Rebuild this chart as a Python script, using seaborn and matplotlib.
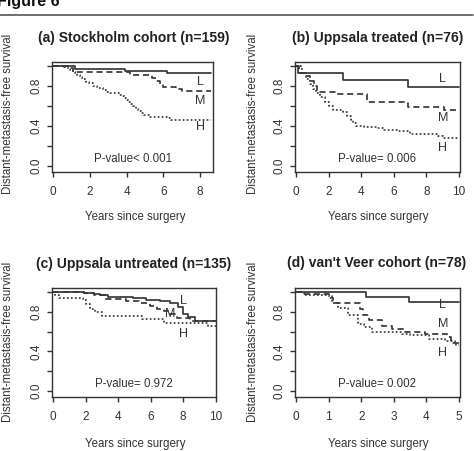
import numpy as np
import pandas as pd
import seaborn as sns
import matplotlib.pyplot as plt
from matplotlib.lines import Line2D

sns.set_style("white")
plt.rcParams['font.family'] = ['Liberation Sans', 'DejaVu Sans']

# Kaplan-Meier step curves (time in years, survival)
a_L_t = [0, 1.2, 3.9, 6.2, 8.6]
a_L_s = [1.0, 0.975, 0.955, 0.93, 0.93]
a_M_t = [0, 0.8, 1.1, 4.2, 5.4, 5.6, 5.8, 6.0, 6.7, 7.0, 8.6]
a_M_s = [1.0, 0.985, 0.94, 0.91, 0.88, 0.85, 0.81, 0.79, 0.77, 0.755, 0.755]
a_H_t = [0, 0.6, 0.8, 0.95, 1.1, 1.2, 1.3, 1.45, 1.6, 1.8, 1.95, 2.2, 2.4, 2.7,
         2.9, 3.1, 3.6, 3.75, 3.85, 3.95, 4.1, 4.2, 4.35, 4.5, 4.65, 4.8, 4.95,
         5.3, 6.2, 6.4, 8.6]
a_H_s = [1.0, 0.99, 0.975, 0.96, 0.945, 0.93, 0.91, 0.89, 0.87, 0.845, 0.83, 0.80,
         0.78, 0.76, 0.745, 0.73, 0.715, 0.70, 0.685, 0.665, 0.645, 0.625, 0.60,
         0.575, 0.555, 0.535, 0.515, 0.495, 0.48, 0.465, 0.465]

b_L_t = [0, 0.15, 2.9, 6.85, 10]
b_L_s = [1.0, 0.933, 0.865, 0.79, 0.79]
b_M_t = [0, 0.16, 0.57, 0.88, 1.08, 1.29, 2.4, 4.36, 6.9, 9.06, 10]
b_M_s = [1.0, 0.933, 0.90, 0.85, 0.80, 0.745, 0.72, 0.64, 0.59, 0.56, 0.56]
b_H_t = [0, 0.35, 0.6, 0.85, 1.05, 1.25, 1.5, 1.75, 2.0, 2.3, 2.9, 3.15, 3.35,
         3.5, 3.7, 4.2, 5.0, 5.4, 6.2, 7.0, 8.7, 9.0, 10]
b_H_s = [1.0, 0.93, 0.87, 0.82, 0.77, 0.73, 0.69, 0.64, 0.60, 0.56, 0.54, 0.50,
         0.46, 0.43, 0.40, 0.395, 0.38, 0.365, 0.35, 0.32, 0.30, 0.28, 0.28]

c_L_t = [0, 1.9, 2.5, 2.9, 3.4, 4.9, 5.7, 6.6, 7.2, 7.7, 8.0, 8.3, 8.7, 10]
c_L_s = [1.0, 0.99, 0.98, 0.965, 0.95, 0.935, 0.92, 0.905, 0.89, 0.85, 0.78,
         0.75, 0.71, 0.71]
c_M_t = [0, 1.9, 2.5, 3.2, 4.5, 5.3, 5.95, 6.4, 6.8, 7.2, 7.6, 8.4, 10]
c_M_s = [1.0, 0.99, 0.97, 0.93, 0.91, 0.89, 0.86, 0.83, 0.81, 0.775, 0.74, 0.71, 0.71]
c_H_t = [0, 0.15, 0.35, 1.85, 2.05, 2.3, 2.6, 3.0, 5.5, 6.8, 9.5, 10]
c_H_s = [1.0, 0.97, 0.94, 0.92, 0.88, 0.83, 0.80, 0.76, 0.73, 0.69, 0.66, 0.66]

d_L_t = [0, 2.15, 3.48, 5]
d_L_s = [1.0, 0.946, 0.895, 0.895]
d_M_t = [0, 0.23, 1.0, 1.1, 1.13, 1.2, 1.97, 2.05, 2.23, 2.64, 2.94, 3.35, 3.97,
         4.63, 4.75, 4.89, 5]
d_M_s = [1.0, 0.975, 0.96, 0.935, 0.90, 0.885, 0.83, 0.765, 0.714, 0.66, 0.63,
         0.595, 0.58, 0.545, 0.51, 0.485, 0.485]
d_H_t = [0, 0.25, 1.0, 1.1, 1.3, 1.6, 1.9, 2.09, 2.33, 3.25, 3.5, 4.07, 4.58,
         4.79, 4.92, 5]
d_H_s = [1.0, 0.97, 0.94, 0.89, 0.84, 0.765, 0.68, 0.647, 0.595, 0.58, 0.565,
         0.53, 0.51, 0.485, 0.46, 0.46]

titles = ["(a) Stockholm cohort (n=159)", "(b) Uppsala treated (n=76)",
          "(c) Uppsala untreated (n=135)", "(d) van't Veer cohort (n=78)"]
pvalues = ["P-value< 0.001", "P-value= 0.006", "P-value= 0.972", "P-value= 0.002"]
group_names = ["L", "M", "H"]
xticks_list = [[0, 2, 4, 6, 8], [0, 2, 4, 6, 8, 10], [0, 2, 4, 6, 8, 10],
               [0, 1, 2, 3, 4, 5]]
xlims = [(-0.05, 8.7), (-0.06, 10.06), (-0.06, 10.02), (-0.03, 5.03)]
# label anchor positions (x, y) for L, M, H in each panel
label_pos = [[(8.0, 0.84), (8.0, 0.65), (8.0, 0.39)],
             [(9.0, 0.87), (9.0, 0.48), (9.0, 0.18)],
             [(8.0, 0.905), (7.2, 0.78), (8.0, 0.58)],
             [(4.5, 0.87), (4.5, 0.68), (4.5, 0.385)]]

curves = [[(a_L_t, a_L_s), (a_M_t, a_M_s), (a_H_t, a_H_s)],
          [(b_L_t, b_L_s), (b_M_t, b_M_s), (b_H_t, b_H_s)],
          [(c_L_t, c_L_s), (c_M_t, c_M_s), (c_H_t, c_H_s)],
          [(d_L_t, d_L_s), (d_M_t, d_M_s), (d_H_t, d_H_s)]]

W, H = 474, 451
fig = plt.figure(figsize=(W / 100, H / 100), dpi=100)

# pixel boxes: left, right, top, bottom
boxes = [(52, 213, 62, 172), (295, 460, 62, 172),
         (52, 216, 288, 397), (295, 460, 288, 397)]
title_xy = [(134, 38), (378, 38), (134, 264), (377, 263)]
xlabel_xy = [(135, 217), (378, 217), (135, 444), (378, 444)]
ylabel_xy = [(8, 114), (253, 114), (8, 342), (253, 342)]

ink = "#333333"
line_col = "#383838"
styles = ["-", (0, (3.5, 2.2)), (0, (1, 1.3))]

for i in range(4):
    l, r, t, b = boxes[i]
    ax = fig.add_axes([l / W, 1 - b / H, (r - l) / W, (b - t) / H])
    for k in range(3):
        tt, ss = curves[i][k]
        df = pd.DataFrame({"time": tt, "surv": ss})
        sns.lineplot(data=df, x="time", y="surv", ax=ax, estimator=None,
                     drawstyle="steps-post", color=line_col, lw=1.25,
                     linestyle=styles[k])
        lx, ly = label_pos[i][k]
        ax.text(lx, ly, group_names[k], ha="center", va="center",
                fontsize=9, color=ink)
    ax.set_xlim(*xlims[i])
    ax.set_ylim(-0.06, 1.04)
    ax.set_xticks(xticks_list[i])
    ax.set_yticks([0, 0.2, 0.4, 0.6, 0.8, 1.0])
    ax.set_yticklabels(["0.0", "", "0.4", "", "0.8", ""], rotation=90,
                       va="center")
    ax.set_xlabel("")
    ax.set_ylabel("")
    ax.tick_params(axis="both", direction="out", length=3.5, width=1.0,
                   colors=ink, labelsize=8.5, left=True, bottom=True)
    ax.tick_params(axis="x", pad=6.5)
    ax.tick_params(axis="y", pad=3)
    for sp in ax.spines.values():
        sp.set_visible(True)
        sp.set_color(ink)
        sp.set_linewidth(1.0)
    xm = (xlims[i][0] + xlims[i][1]) / 2
    ax.text(xm, 0.075, pvalues[i], ha="center", va="center", fontsize=8.3,
            color=ink)
    fig.text(title_xy[i][0] / W, 1 - title_xy[i][1] / H, titles[i],
             ha="center", va="center", fontsize=10, fontweight="bold",
             color="#222222")
    fig.text(xlabel_xy[i][0] / W, 1 - xlabel_xy[i][1] / H,
             "Years since surgery", ha="center", va="center", fontsize=8.3,
             color=ink)
    fig.text(ylabel_xy[i][0] / W, 1 - ylabel_xy[i][1] / H,
             "Distant-metastasis-free survival", ha="center", va="center",
             rotation=90, fontsize=8.3, color=ink)

fig.text(-3 / W, 1 - 6 / H, "Figure 6", ha="left", va="baseline",
         fontsize=11.5, fontweight="bold", color="#111111")
fig.add_artist(Line2D([0, 473 / W], [1 - 15 / H, 1 - 15 / H],
                      color="#555555", lw=1.2))

fig.savefig("out.png", dpi=100)
